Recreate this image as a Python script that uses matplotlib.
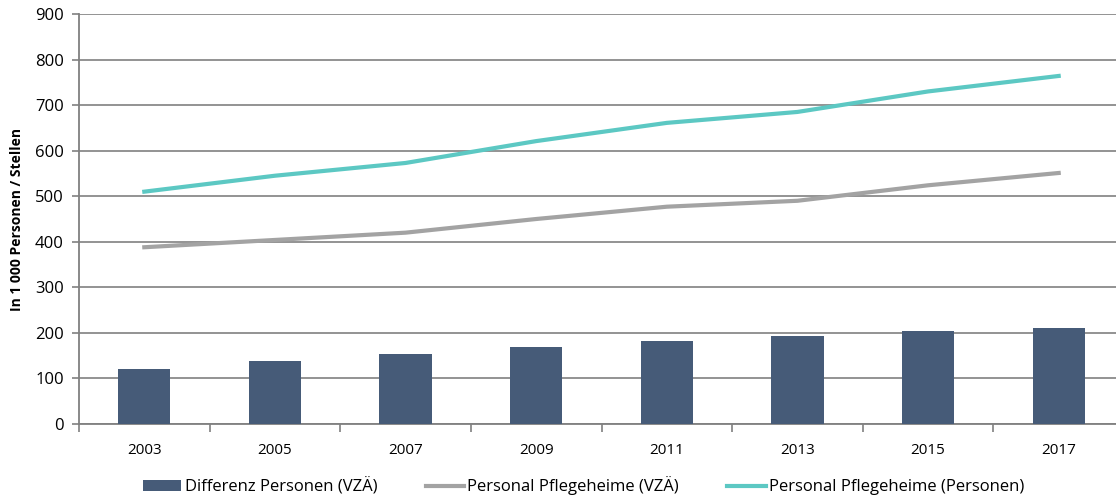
import numpy as np
import matplotlib.pyplot as plt
from matplotlib.ticker import FixedLocator

# data (1 000 persons / positions)
years = ['2003', '2005', '2007', '2009', '2011', '2013', '2015', '2017']
differenz = [121, 138, 154, 169, 182, 193, 204, 211]
personal_vza = [388, 404, 420, 450, 477, 490, 524, 551]
personal_pers = [510, 545, 573, 621, 661, 685, 730, 764]

plt.rcParams['font.family'] = ['Open Sans', 'DejaVu Sans']

fig = plt.figure(figsize=(11.16, 4.97), dpi=100)
ax = fig.add_axes([79 / 1116, 1 - 424 / 497, 1045 / 1116, 410 / 497])

x = np.arange(len(years))
ax.bar(x, differenz, width=0.4, color='#465b78', label='Differenz Personen (VZÄ)', zorder=3)
ax.plot(x, personal_vza, color='#a3a3a3', lw=3, label='Personal Pflegeheime (VZÄ)', zorder=4)
ax.plot(x, personal_pers, color='#5cc8c3', lw=3, label='Personal Pflegeheime (Personen)', zorder=4)

ax.set_xlim(-0.5, len(years) - 0.5)
ax.set_ylim(0, 900)
ax.set_yticks(range(0, 901, 100))
ax.set_xticks(x)
ax.set_xticklabels(years, fontsize=11)
ax.xaxis.set_minor_locator(FixedLocator(np.arange(-0.5, len(years), 1)))
ax.tick_params(axis='x', which='major', length=0, pad=14)
ax.tick_params(axis='x', which='minor', length=6, color='#808080', width=1.2)
ax.tick_params(axis='y', length=5, color='#808080', width=1.2, labelsize=12, pad=6)

ax.grid(axis='y', color='#8a8a8a', lw=1.3, zorder=0)
for s in ['top', 'right']:
    ax.spines[s].set_visible(False)
for s in ['left', 'bottom']:
    ax.spines[s].set_color('#808080')
    ax.spines[s].set_linewidth(1.3)

ax.set_ylabel('In 1 000 Personen / Stellen', fontsize=10, fontweight='bold', labelpad=8)

h, l = ax.get_legend_handles_labels()
order = [2, 0, 1]
fig.legend([h[i] for i in order], [l[i] for i in order], loc='center',
           bbox_to_anchor=(0.523, 1 - 486 / 497), ncol=3, frameon=False, fontsize=12,
           handlelength=2.3, handletextpad=0.2, columnspacing=2.9)

fig.savefig('out.png', dpi=100)
